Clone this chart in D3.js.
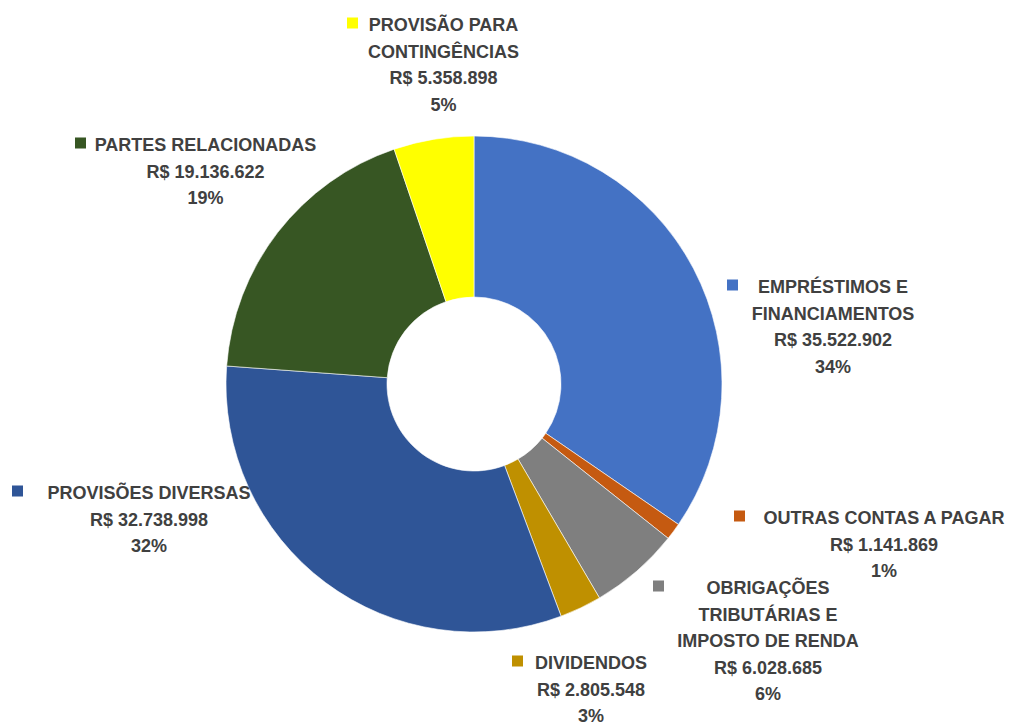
<!DOCTYPE html>
<html>
<head>
<meta charset="utf-8">
<script src="https://cdn.jsdelivr.net/npm/d3@7"></script>
<style>
  html, body { margin: 0; padding: 0; background: #fff; }
  svg { display: block; }
  text { font-family: "Liberation Sans", Arial, sans-serif; font-weight: bold; font-size: 18px; fill: #404040; }
</style>
</head>
<body>
<svg id="chart" width="1009" height="722"></svg>
<script>
// ---- data ----
const categories = [
  ["EMPRÉSTIMOS E", "FINANCIAMENTOS"],
  ["OUTRAS CONTAS A PAGAR"],
  ["OBRIGAÇÕES", "TRIBUTÁRIAS E", "IMPOSTO DE RENDA"],
  ["DIVIDENDOS"],
  ["PROVISÕES DIVERSAS"],
  ["PARTES RELACIONADAS"],
  ["PROVISÃO PARA", "CONTINGÊNCIAS"]
];
const values = [35522902, 1141869, 6028685, 2805548, 32738998, 19136622, 5358898];
const percentLabels = ["34%", "1%", "6%", "3%", "32%", "19%", "5%"];
const colors = ["#4472C4", "#C55A11", "#7F7F7F", "#BF9000", "#2F5597", "#375623", "#FFFF00"];

// ---- layout (positions of label blocks) ----
const labelLayout = [
  { cx: 833,   y: 293, sq: 727 },
  { cx: 884,   y: 524, sq: 734 },
  { cx: 768,   y: 594, sq: 653 },
  { cx: 591,   y: 669, sq: 512 },
  { cx: 149,   y: 499, sq: 12 },
  { cx: 205.5, y: 151, sq: 75 },
  { cx: 443.5, y: 31,  sq: 347 }
];
const center = [474, 384];
const outerR = 248, innerR = 87;
const lineH = 26.5;

const locale = d3.formatLocale({ decimal: ",", thousands: ".", grouping: [3], currency: ["R$ ", ""] });
const fmt = locale.format(",d");

const svg = d3.select("#chart");
const g = svg.append("g").attr("transform", `translate(${center[0]},${center[1]})`);

const pie = d3.pie().sort(null).value(d => d)(values);
const arc = d3.arc().innerRadius(innerR).outerRadius(outerR);

g.selectAll("path").data(pie).join("path")
  .attr("d", arc)
  .attr("fill", (d, i) => colors[i])
  .attr("stroke", "#ffffff")
  .attr("stroke-width", 0.6);

const labels = svg.append("g");
values.forEach((v, i) => {
  const L = labelLayout[i];
  const lines = categories[i].concat(["R$ " + fmt(v), percentLabels[i]]);
  const t = labels.append("text").attr("text-anchor", "middle");
  lines.forEach((ln, k) => {
    t.append("tspan").attr("x", L.cx).attr("y", L.y + k * lineH).text(ln);
  });
  labels.append("rect")
    .attr("x", L.sq).attr("y", L.y - 13.5)
    .attr("width", 11).attr("height", 11)
    .attr("fill", colors[i]);
});
</script>
</body>
</html>
